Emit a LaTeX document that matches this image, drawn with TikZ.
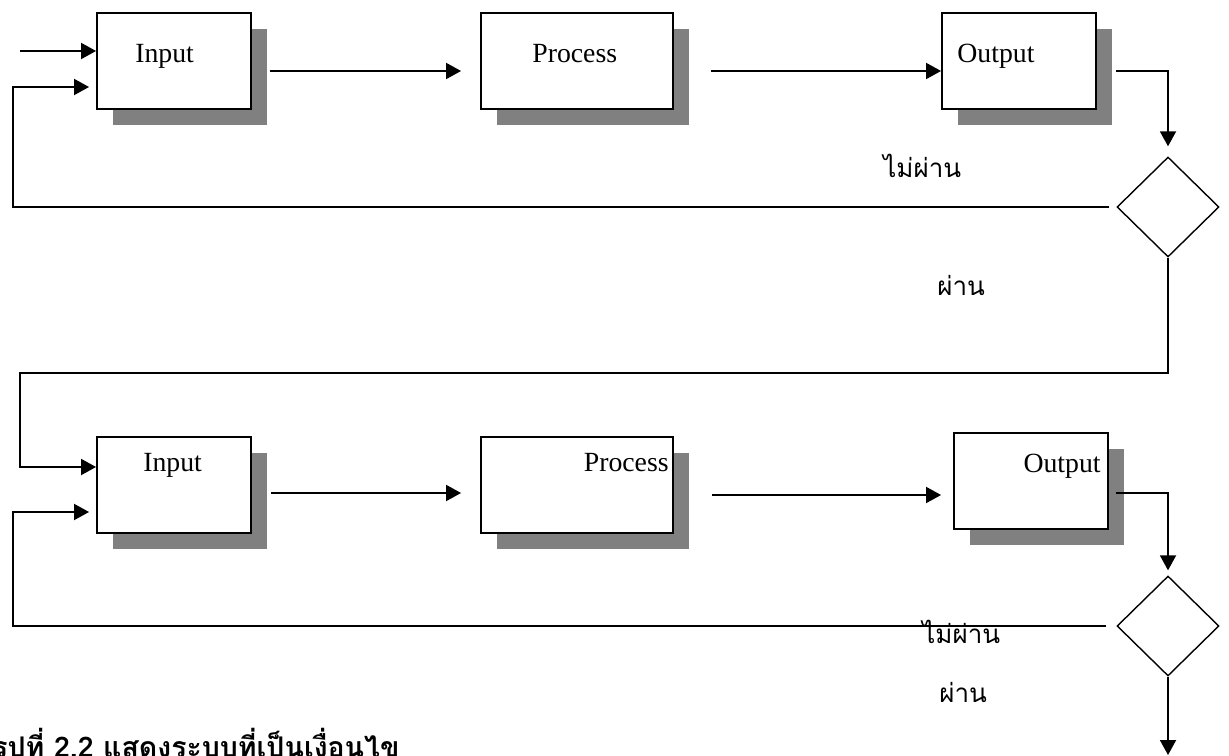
\documentclass[tikz,border=0pt]{standalone}
\usepackage{fontspec}
\setmainfont{Liberation Serif}
\newfontfamily\thaifont[Script=Thai]{Loma}
\usetikzlibrary{arrows.meta,shapes.geometric,shadows}

\begin{document}
\begin{tikzpicture}[x=0.02cm,y=-0.02cm,
  box/.style={draw, line width=1.1pt, fill=white, inner sep=0pt, minimum height=1.92cm,
    drop shadow={shadow xshift=0.32cm, shadow yshift=-0.32cm, fill=black!50, opacity=1}},
  decision/.style={draw, diamond, line width=0.8pt, inner sep=0pt, minimum width=2.04cm, minimum height=2cm},
  txt/.style={font=\fontsize{15.8}{18}\selectfont, inner sep=0pt, anchor=base west},
  thai/.style={font=\fontsize{14.8}{18}\thaifont, inner sep=0pt, anchor=base west},
  flow/.style={line width=1.1pt, -{Triangle[length=0.3cm,width=0.32cm]}}]
\useasboundingbox (0,0) rectangle (1229,756);

\coordinate (s1) at (20,51);
\coordinate (s2) at (13,87);
\node (in1) at (174,61) [box, minimum width=3.08cm] {};
\node (pr1) at (577,61) [box, minimum width=3.84cm] {};
\node (out1) at (1019,61) [box, minimum width=3.08cm] {};
\node (dec1) at (1168,207) [decision] {};
\node (t1) at (135,63) [txt] {Input};
\node (t2) at (532,63) [txt] {Process};
\node (t3) at (957,63) [txt] {Output};
\node (no1) at (883,178) [thai] {ไม่ผ่าน};
\node (yes1) at (937,296) [thai] {ผ่าน};

\draw[flow] (s1) -- (s1 -| in1.west);
\draw[flow, shorten <=0.36cm, shorten >=0.38cm] ([yshift=-0.2cm]in1.east) -- ([yshift=-0.2cm]pr1.west);
\draw[flow, shorten <=0.74cm] ([yshift=-0.2cm]pr1.east) -- ([yshift=-0.2cm]out1.west);
\draw[flow, shorten <=0.38cm, shorten >=0.2cm] ([yshift=-0.2cm]out1.east) -| (dec1.north);
\draw[flow, shorten <=0.14cm, shorten >=0.14cm] (dec1.west) -- (dec1.west -| s2) -- (s2) -- (s2 -| in1.west);

\coordinate (r2) at (20,373);
\coordinate (s4) at (13,512);
\node (in2) at (174,485) [box, minimum width=3.08cm] {};
\node (pr2) at (577,485) [box, minimum width=3.84cm] {};
\node (out2) at (1031,481) [box, minimum width=3.08cm] {};
\node (dec2) at (1168,626) [decision] {};
\node (t4) at (143,471) [txt] {Input};
\node (t5) at (669,471) [txt, anchor=base east] {Process};
\node (t6) at (1101,472) [txt, anchor=base east] {Output};
\node (no2) at (922,643) [thai] {ไม่ผ่าน};
\node (yes2) at (939,702) [thai] {ผ่าน};
\coordinate (m2) at ([yshift=-0.2cm]pr2.east);
\coordinate (fin) at (1168,755);

\draw[flow] (dec1.south) |- (r2) |- ([yshift=0.36cm]in2.west);
\draw[flow, shorten <=0.38cm, shorten >=0.38cm] ([yshift=-0.16cm]in2.east) -- ([yshift=-0.16cm]pr2.west);
\draw[flow, shorten <=0.76cm, shorten >=0.24cm] (m2) -- (m2 -| out2.west);
\draw[flow, shorten <=0.14cm, shorten >=0.1cm] ([yshift=-0.24cm]out2.east) -| (dec2.north);
\draw[flow, shorten <=0.2cm, shorten >=0.14cm] (dec2.west) -- (dec2.west -| s4) -- (s4) -- (s4 -| in2.west);
\draw[flow] (dec2.south) -- (fin);

\node (cap) at (-8,757) [anchor=base west, inner sep=0pt, font=\fontsize{16.2}{20}\thaifont\bfseries] {รูปที่ 2.2 แสดงระบบที่เป็นเงื่อนไข};
\end{tikzpicture}
\end{document}
